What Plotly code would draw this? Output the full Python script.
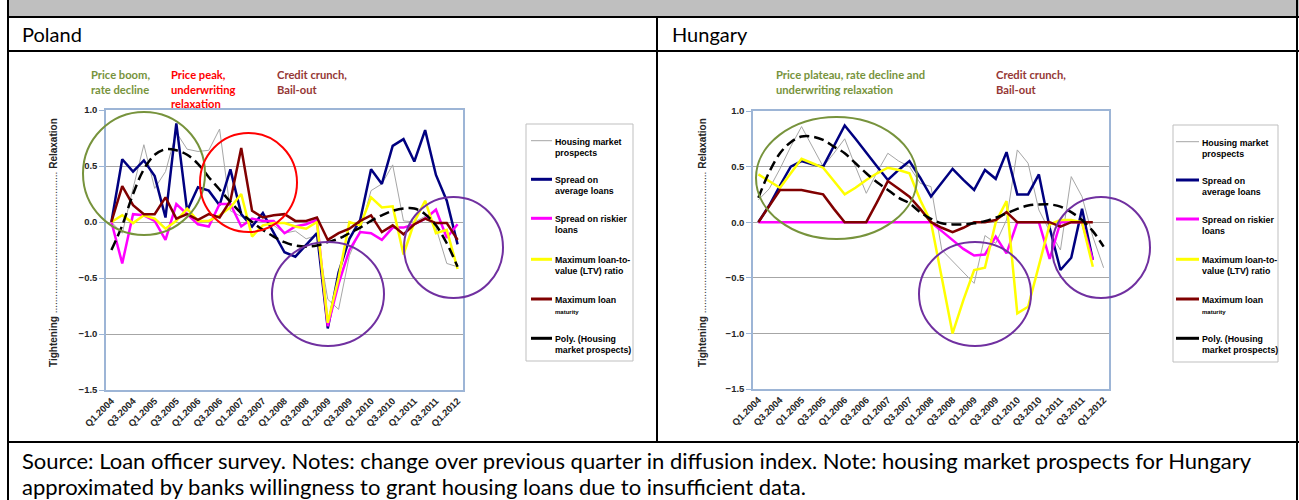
import plotly.graph_objects as go

W, H = 1299, 500

quarters = ["Q1.2004", "Q2.2004", "Q3.2004", "Q4.2004", "Q1.2005", "Q2.2005", "Q3.2005", "Q4.2005",
            "Q1.2006", "Q2.2006", "Q3.2006", "Q4.2006", "Q1.2007", "Q2.2007", "Q3.2007", "Q4.2007",
            "Q1.2008", "Q2.2008", "Q3.2008", "Q4.2008", "Q1.2009", "Q2.2009", "Q3.2009", "Q4.2009",
            "Q1.2010", "Q2.2010", "Q3.2010", "Q4.2010", "Q1.2011", "Q2.2011", "Q3.2011", "Q4.2011",
            "Q1.2012"]
tick_labels = quarters[::2]

# Poland
pl_housing = [0.0, -0.10, 0.30, 0.69, 0.30, 0.45, 0.80, 0.65, 0.63, 0.64, 0.83, 0.10, 0.05, 0.0, 0.02, -0.03,
              -0.10, -0.08, -0.15, -0.12, -0.69, -0.78, -0.30, -0.07, 0.28, 0.34, 0.51, 0.01, 0.0, 0.05, -0.05,
              -0.37, -0.40]
pl_spread_avg = [0.0, 0.56, 0.45, 0.55, 0.41, 0.04, 0.88, 0.10, 0.31, 0.28, 0.15, 0.47, 0.07, -0.04, 0.08, -0.09,
                 -0.27, -0.31, -0.20, -0.10, -0.95, -0.45, -0.15, 0.02, 0.47, 0.34, 0.68, 0.74, 0.54, 0.82, 0.42,
                 0.19, -0.20]
pl_spread_risk = [0.0, -0.37, 0.07, 0.06, 0.01, -0.16, 0.16, 0.07, -0.02, -0.04, 0.16, 0.16, -0.04, 0.03, 0.01, 0.01,
                  -0.10, -0.04, -0.02, 0.02, -0.93, -0.55, -0.25, -0.09, -0.10, -0.16, -0.05, -0.05, -0.02, 0.03,
                  0.11, -0.14, -0.02]
pl_ltv = [0.0, 0.06, -0.01, 0.06, 0.03, -0.06, 0.01, 0.12, 0.01, 0.01, 0.06, 0.13, 0.25, -0.13, -0.03, -0.01,
          -0.01, -0.04, -0.06, 0.0, -0.90, -0.50, 0.0, -0.03, 0.22, 0.13, 0.14, -0.29, 0.0, 0.19, -0.10, -0.07, -0.42]
pl_maturity = [0.0, 0.32, 0.15, 0.07, 0.07, 0.22, 0.03, 0.07, 0.02, 0.07, 0.04, 0.19, 0.66, 0.10, 0.04, 0.06,
               0.07, 0.01, 0.01, 0.04, -0.16, -0.10, -0.06, 0.01, 0.06, -0.09, -0.03, -0.11, -0.02, 0.03, -0.01,
               -0.01, -0.16]
pl_trend = [-0.25, -0.03, 0.25, 0.47, 0.60, 0.65, 0.64, 0.60, 0.52, 0.40, 0.29, 0.18, 0.08, 0.0, -0.07, -0.13,
            -0.18, -0.21, -0.22, -0.21, -0.18, -0.15, -0.10, -0.05, 0.01, 0.06, 0.10, 0.12, 0.12, 0.07, -0.03,
            -0.19, -0.40]

# Hungary
hu_housing = [0.20, 0.30, 0.48, 0.68, 0.86, 0.68, 0.50, 0.62, 0.75, 0.50, 0.26, 0.45, 0.62, 0.55, 0.50, 0.35,
              0.32, -0.25, -0.35, -0.45, -0.55, -0.12, -0.19, 0.02, 0.65, 0.53, 0.11, -0.08, -0.25, 0.41, 0.23,
              -0.13, -0.41]
hu_spread_avg = [0.0, 0.15, 0.33, 0.50, 0.55, 0.52, 0.50, 0.68, 0.87, 0.75, 0.62, 0.50, 0.38, 0.47, 0.55, 0.40,
                 0.23, 0.35, 0.48, 0.38, 0.29, 0.47, 0.39, 0.63, 0.25, 0.25, 0.43, -0.05, -0.43, -0.32, 0.12,
                 -0.34, None]
hu_spread_risk = [0.0, 0.0, 0.0, 0.0, 0.0, 0.0, 0.0, 0.0, 0.0, 0.0, 0.0, 0.0, 0.0, 0.0, 0.0, 0.0,
                  0.0, -0.08, -0.16, -0.24, -0.30, -0.29, -0.13, -0.28, 0.0, 0.0, 0.0, -0.33, 0.0, 0.0, 0.0,
                  -0.34, None]
hu_ltv = [0.43, 0.37, 0.31, 0.44, 0.57, 0.53, 0.49, 0.37, 0.25, 0.31, 0.38, 0.44, 0.49, 0.47, 0.44, 0.20,
          0.0, -0.50, -1.00, -0.70, -0.43, -0.41, 0.0, 0.19, -0.82, -0.76, -0.38, -0.02, 0.02, 0.02, 0.0,
          -0.40, None]
hu_maturity = [0.0, 0.15, 0.29, 0.29, 0.29, 0.27, 0.25, 0.12, 0.0, 0.0, 0.0, 0.18, 0.37, 0.30, 0.23, 0.12,
               0.0, -0.05, -0.09, -0.05, 0.0, 0.0, 0.02, 0.09, 0.0, 0.0, 0.0, 0.0, -0.04, 0.0, 0.0, 0.0, None]
hu_trend = [0.22, 0.45, 0.62, 0.72, 0.77, 0.77, 0.74, 0.68, 0.62, 0.53, 0.44, 0.36, 0.29, 0.22, 0.17, 0.09,
            0.03, -0.01, -0.02, -0.02, -0.01, 0.01, 0.04, 0.08, 0.12, 0.15, 0.16, 0.16, 0.14, 0.09, 0.02,
            -0.08, -0.22]

legend_names = ["Housing market<br>prospects", "Spread on<br>average loans", "Spread on riskier<br>loans",
                "Maximum loan-to-<br>value (LTV) ratio",
                "Maximum loan<br><span style='font-size:6px'>maturity</span>",
                "Poly. (Housing<br>market prospects)"]
line_colors = ["#A6A6A6", "#000080", "#FF00FF", "#FFFF00", "#800000", "#000000"]
line_widths = [1, 2.5, 2.5, 2.5, 2.5, 2.5]

footer_lines = ["Source: Loan officer survey. Notes: change over previous quarter in diffusion index. "
                "Note: housing market prospects for Hungary",
                "approximated by banks willingness to grant housing loans due to insufficient data."]

AXIS_BLUE = "#9DB5D6"
GRID = "#A6A6A6"
TXT = "#262626"


def px(x):
    return x / W


def py(y):
    return 1 - y / H


fig = go.Figure()


def add_country(xa, ya, series, trend):
    for ys, color, width in zip(series, line_colors[:5], line_widths[:5]):
        fig.add_trace(go.Scatter(
            x=quarters, y=ys, mode="lines", xaxis=xa, yaxis=ya,
            line=dict(color=color, width=width), showlegend=False, hoverinfo="skip",
        ))
    fig.add_trace(go.Scatter(
        x=quarters, y=trend, mode="lines", xaxis=xa, yaxis=ya,
        line=dict(color="#000000", width=2.5, dash="10px,5px", shape="spline"),
        showlegend=False, hoverinfo="skip",
    ))


add_country("x", "y", [pl_housing, pl_spread_avg, pl_spread_risk, pl_ltv, pl_maturity], pl_trend)
add_country("x2", "y2", [hu_housing, hu_spread_avg, hu_spread_risk, hu_ltv, hu_maturity], hu_trend)

tick_font = dict(family="Arial", size=9.5, color=TXT, weight="bold")


def xaxis_cfg(left, right, anchor):
    return dict(domain=[px(left), px(right)], anchor=anchor, type="category",
                categoryorder="array", categoryarray=quarters, automargin=False,
                range=[-0.5, len(quarters) - 0.5], tickmode="array", tickvals=tick_labels,
                tickangle=-45, tickfont=tick_font, showline=True, linecolor=AXIS_BLUE, linewidth=1.5,
                mirror=True, showgrid=False, ticks="", zeroline=False)


def yaxis_cfg(top, bottom, anchor):
    return dict(domain=[py(bottom), py(top)], anchor=anchor, range=[-1.5, 1.0], dtick=0.5, automargin=False,
                tickformat=".1f", tickfont=tick_font, showgrid=True, gridcolor=GRID, gridwidth=1,
                zeroline=True, zerolinecolor=GRID, zerolinewidth=1, showline=True, linecolor=AXIS_BLUE,
                linewidth=1.5, mirror=True, ticks="outside", ticklen=5, tickcolor=AXIS_BLUE)


shapes = []
annotations = []

# table frame
shapes.append(dict(type="rect", xref="paper", yref="paper", x0=px(8), x1=px(1299), y0=py(17), y1=py(0),
                   fillcolor="#BFBFBF", line=dict(width=0), layer="below"))
for x0, y0, x1, y1 in [(8, 0, 8, 500), (1297, 0, 1297, 500), (8, 17, 1299, 17), (8, 51, 1299, 51),
                       (8, 442, 1299, 442), (657, 17, 657, 442)]:
    shapes.append(dict(type="line", xref="paper", yref="paper", x0=px(x0), x1=px(x1), y0=py(y0), y1=py(y1),
                       line=dict(color="#000000", width=2)))

# circles
circles = [(83, 112, 205, 235, "#77933C"), (200, 133, 297, 232, "#FF0000"),
           (272, 242, 384, 346, "#7030A0"), (404, 197, 503, 298, "#7030A0"),
           (756, 117, 917, 239, "#77933C"), (919, 242, 1031, 346, "#7030A0"),
           (1052, 197, 1150, 298, "#7030A0")]
for x0, y0, x1, y1, c in circles:
    shapes.append(dict(type="circle", xref="paper", yref="paper", x0=px(x0), x1=px(x1), y0=py(y1), y1=py(y0),
                       line=dict(color=c, width=2)))

# legends
for box_l, box_t, box_r, box_b, s0, s1, ys in [
        (526, 124, 633, 361, 531, 552, [140.7, 179.3, 218.3, 259.3, 299, 338.3]),
        (1173, 125, 1278, 362, 1176, 1199, [141.7, 180, 219, 259.3, 299, 338.3])]:
    shapes.append(dict(type="rect", xref="paper", yref="paper", x0=px(box_l), x1=px(box_r), y0=py(box_b),
                       y1=py(box_t), line=dict(color="#BFBFBF", width=1)))
    for name, color, width, y in zip(legend_names, line_colors, line_widths, ys):
        shapes.append(dict(type="line", xref="paper", yref="paper", x0=px(s0), x1=px(s1), y0=py(y), y1=py(y),
                           line=dict(color=color, width=width + (0.5 if width > 1 else 0))))
        annotations.append(dict(xref="paper", yref="paper", x=px(s1 + 1), y=py(y - 6), text=name,
                                xanchor="left", yanchor="top", align="left", showarrow=False,
                                font=dict(family="Arial", size=8.8, color="#000000", weight="bold")))

# headings
for x, t in [(20, "Poland"), (670, "Hungary")]:
    annotations.append(dict(xref="paper", yref="paper", x=px(x), y=py(34), text=t, xanchor="left",
                            yanchor="middle", showarrow=False, font=dict(family="Lato", size=20, color="#000000")))

# phase notes
notes = [(89, "Price boom,<br>rate decline", "#77933C"),
         (169, "Price peak,<br>underwriting<br>relaxation", "#FF0000"),
         (275, "Credit crunch,<br>Bail-out", "#953735"),
         (774, "Price plateau, rate decline and<br>underwriting relaxation", "#77933C"),
         (994, "Credit crunch,<br>Bail-out", "#953735")]
for x, t, c in notes:
    annotations.append(dict(xref="paper", yref="paper", x=px(x), y=py(66), text=t, xanchor="left",
                            yanchor="top", align="left", showarrow=False,
                            font=dict(family="Lato", size=11.2, color=c, weight="bold")))

# y titles
dots = "." * 51
for x in [53, 702]:
    annotations.append(dict(xref="paper", yref="paper", x=px(x), y=py(243), textangle=-90,
                            text="<b>Tightening</b> " + dots + " <b>Relaxation</b>", showarrow=False,
                            xanchor="center", yanchor="middle",
                            font=dict(family="Arial", size=10, color=TXT)))

# footer
for y, t in zip([460, 486], footer_lines):
    annotations.append(dict(xref="paper", yref="paper", x=px(20), y=py(y), yanchor="middle", xanchor="left",
                            align="left", showarrow=False, text=t,
                            font=dict(family="Lato", size=22, color="#000000")))

fig.update_layout(
    width=W, height=H,
    margin=dict(l=0, r=0, t=0, b=0, autoexpand=False),
    paper_bgcolor="white", plot_bgcolor="white",
    showlegend=False,
    xaxis=xaxis_cfg(106, 463, "y"),
    yaxis=yaxis_cfg(110, 390, "x"),
    xaxis2=xaxis_cfg(753, 1109, "y2"),
    yaxis2=yaxis_cfg(111, 389, "x2"),
    shapes=shapes,
    annotations=annotations,
)

fig.write_html("out.html", config={"displayModeBar": False},
               post_script="document.body.style.margin = '0';")
